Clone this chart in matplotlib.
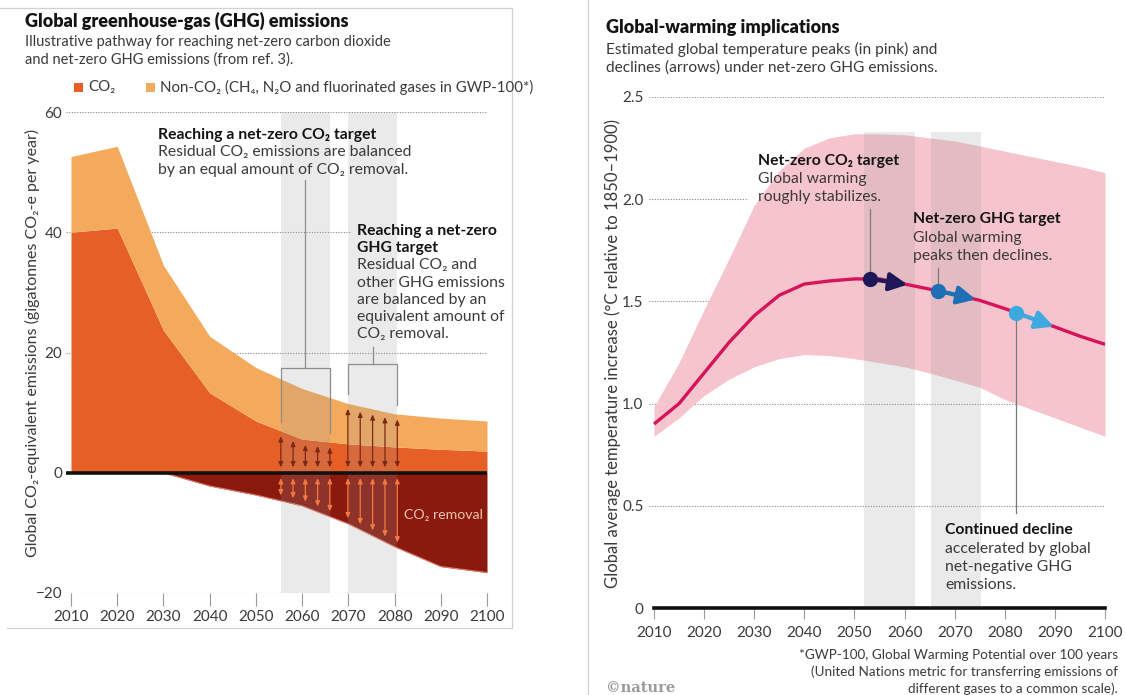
import numpy as np
import matplotlib
matplotlib.use('Agg')
import matplotlib.pyplot as plt
from matplotlib.lines import Line2D
from matplotlib.patches import Rectangle

plt.rcParams['font.family'] = ['Lato', 'DejaVu Sans']

# ---------------------------------------------------------
# Emisiones (Gt CO2-e por año)
# ---------------------------------------------------------
years_em = [2010, 2020, 2030, 2040, 2050, 2060, 2070, 2080, 2090, 2100]
co2_gross = [40.0, 40.7, 23.7, 13.3, 8.6, 5.6, 4.8, 4.3, 3.9, 3.6]
ghg_total = [52.6, 54.3, 34.5, 22.7, 17.5, 14.0, 11.5, 9.8, 9.1, 8.6]
co2_removal = [0.0, 0.0, 0.0, -2.2, -3.7, -5.5, -8.5, -12.3, -15.6, -16.6]

# ---------------------------------------------------------
# Calentamiento (°C sobre 1850-1900)
# ---------------------------------------------------------
years_t = [2010, 2015, 2020, 2025, 2030, 2035, 2040, 2045, 2050, 2055,
           2060, 2065, 2070, 2075, 2080, 2085, 2090, 2095, 2100]
temp_mid = [0.90, 1.00, 1.15, 1.30, 1.43, 1.53, 1.585, 1.60, 1.61, 1.61,
            1.585, 1.56, 1.535, 1.505, 1.465, 1.42, 1.375, 1.33, 1.29]
temp_high = [0.985, 1.20, 1.46, 1.71, 1.97, 2.14, 2.25, 2.30, 2.32, 2.32,
             2.315, 2.30, 2.285, 2.26, 2.235, 2.21, 2.185, 2.16, 2.13]
temp_low = [0.84, 0.93, 1.04, 1.12, 1.18, 1.22, 1.24, 1.235, 1.22, 1.20,
            1.18, 1.15, 1.115, 1.08, 1.02, 0.975, 0.93, 0.885, 0.84]

# ventanas net-zero CO2 / net-zero GHG en cada panel
em_windows = [(2055.4, 2066.0), (2069.9, 2080.6)]
t_windows = [(2052.0, 2062.0), (2065.3, 2075.3)]

# puntos marcados sobre la curva de temperatura
mark_years = [2053.1, 2066.7, 2082.3]
mark_colors = ['#1e1858', '#1f6fb4', '#3ea9de']
arrow_span = 7.5

# colores
C_CO2 = '#e65f27'
C_NON = '#f4aa5c'
C_REM = '#8a1a0e'
C_PINK = '#f6c4cd'
C_LINE = '#d5145b'
TXT = '#3a3a3a'
BOLD = '#141414'
GRID = '#8a8a8a'

W, H = 1126, 695
fig = plt.figure(figsize=(W / 100, H / 100), dpi=100)


def fx(px):
    return px / W


def fy(py):
    return 1 - py / H


def texto(x, y, s, size=11, weight='normal', color=None, ha='left', **kw):
    fig.text(fx(x), fy(y), s, fontsize=size, fontweight=weight,
             color=color or (BOLD if weight != 'normal' else TXT),
             va='center', ha=ha, **kw)


def grid_line(ax, v, x0, x1, gap=None):
    segs = [(x0, x1)] if gap is None else [(x0, gap[0]), (gap[1], x1)]
    for a, b in segs:
        if b > a:
            ax.plot([a, b], [v, v], ls=(0, (1, 1.4)), color=GRID, lw=0.8, zorder=0.5)


# ---------------------------------------------------------
# Panel izquierdo: emisiones
# ---------------------------------------------------------
pxy = (487 - 71) / 90
axL = fig.add_axes([fx(71 - pxy), fy(593), fx(487) - fx(71 - pxy), fy(112) - fy(593)])
axL.set_xlim(2009, 2100)
axL.set_ylim(-20, 60)

axL.fill_between(years_em, 0, co2_gross, color=C_CO2, lw=0, zorder=1)
axL.fill_between(years_em, co2_gross, ghg_total, color=C_NON, lw=0, zorder=1)
axL.fill_between(years_em, co2_removal, 0, color=C_REM, lw=0, zorder=1)
axL.plot(years_em[2:], co2_removal[2:], color='#e27a68', lw=0.8, zorder=1.1)

for w in em_windows:
    axL.axvspan(*w, color='#9a9a9a', alpha=0.2, lw=0, zorder=2)

for v in [60, 40, 20, -20]:
    grid_line(axL, v, 2009, 2100, gap=(2070.4, 2100) if v == 40 else None)
axL.axhline(0, color='#111111', lw=2.6, zorder=3)

# flechas de balance dentro de cada ventana
arrow_kw = dict(arrowstyle='<|-|>,head_length=0.5,head_width=0.22', lw=0.9,
                shrinkA=0, shrinkB=0, mutation_scale=6)
for w, top in zip(em_windows, (co2_gross, ghg_total)):
    for x in np.linspace(w[0], w[1], 5):
        up = np.interp(x, years_em, top)
        down = np.interp(x, years_em, co2_removal)
        axL.annotate('', xy=(x, up - 0.9), xytext=(x, 0.9),
                     arrowprops=dict(color='#7c2812', **arrow_kw), zorder=4)
        axL.annotate('', xy=(x, down + 0.9), xytext=(x, -0.9),
                     arrowprops=dict(color='#f27a40', **arrow_kw), zorder=4)

# corchetes que señalan cada ventana
for w, top, yb, ystem in zip(em_windows, (co2_gross, ghg_total), (17.4, 18.1), (48.7, 20.9)):
    xl, xr = w
    xm = (xl + xr) / 2
    yl = np.interp(xl, years_em, top) + 1.5
    yr = np.interp(xr, years_em, top) + 1.5
    axL.plot([xl, xl, xr, xr], [yl, yb, yb, yr], color='#8d8d8d', lw=0.9, zorder=5)
    axL.plot([xm, xm], [yb, ystem], color='#8d8d8d', lw=0.9, zorder=5)

axL.text(2090.5, -7.0, 'CO₂ removal', color='#f1c3b3', ha='center', va='center',
         fontsize=10.2, zorder=5)

for s in axL.spines.values():
    s.set_visible(False)
axL.set_xticks(range(2010, 2101, 10))
axL.set_yticks([-20, 0, 20, 40, 60])
axL.tick_params(axis='x', length=9, width=0.8, color='#9a9a9a', pad=3,
                labelsize=11, labelcolor=TXT)
axL.tick_params(axis='y', length=0, pad=3, labelsize=11, labelcolor=TXT)

# ---------------------------------------------------------
# Panel derecho: calentamiento
# ---------------------------------------------------------
axR = fig.add_axes([fx(649), fy(608), fx(1105) - fx(649), fy(97) - fy(608)])
axR.set_xlim(2009, 2100)
axR.set_ylim(0, 2.5)

axR.fill_between(years_t, temp_low, temp_high, color=C_PINK, lw=0, zorder=1)
for w in t_windows:
    axR.axvspan(*w, ymax=2.33 / 2.5, color='#9a9a9a', alpha=0.2, lw=0, zorder=2)
for v in [0.5, 1.0, 1.5, 2.0, 2.5]:
    grid_line(axR, v, 2009, 2100, gap=(2028.8, 2057.1) if v == 2.0 else None)
axR.plot([2010, 2100], [0, 0], color='#111111', lw=2.6, zorder=3, clip_on=False)

axR.plot(years_t, temp_mid, color=C_LINE, lw=2.4, zorder=4, solid_capstyle='butt')

# líneas guía desde los textos
leader = [(mark_years[0], 1.95, None), (mark_years[1], 1.665, None),
          (mark_years[2], None, 0.465)]
for x, ytop, ybot in leader:
    y = np.interp(x, years_t, temp_mid)
    axR.plot([x, x], [ytop if ytop else y, ybot if ybot else y],
             color='#7a7a7a', lw=0.9, zorder=3.5)

for x, c in zip(mark_years, mark_colors):
    y0 = np.interp(x, years_t, temp_mid)
    x1 = x + arrow_span
    y1 = np.interp(x1, years_t, temp_mid)
    axR.annotate('', xy=(x1, y1), xytext=(x, y0),
                 arrowprops=dict(arrowstyle='-|>,head_length=0.9,head_width=0.45',
                                 color=c, lw=3, shrinkA=0, shrinkB=0,
                                 mutation_scale=12), zorder=5)
    axR.plot([x], [y0], 'o', ms=11, color=c, mec='none', zorder=6)

for s in axR.spines.values():
    s.set_visible(False)
axR.set_xticks(range(2010, 2101, 10))
axR.set_yticks([0, 0.5, 1.0, 1.5, 2.0, 2.5])
axR.set_yticklabels(['0', '0.5', '1.0', '1.5', '2.0', '2.5'])
axR.tick_params(axis='x', length=8, width=0.8, color='#9a9a9a', pad=5,
                labelsize=11, labelcolor=TXT)
axR.tick_params(axis='y', length=0, pad=4, labelsize=11, labelcolor=TXT)

# ---------------------------------------------------------
# Marcos, títulos y textos
# ---------------------------------------------------------
fig.add_artist(Line2D([fx(0), fx(512), fx(512), fx(7)],
                      [fy(8), fy(8), fy(628), fy(628)], color='#d2d2d2', lw=0.9))
fig.add_artist(Line2D([fx(588), fx(588)], [0, 1], color='#d2d2d2', lw=0.9))

texto(25, 21, 'Global greenhouse-gas (GHG) emissions', size=13, weight='heavy')
texto(25, 42, 'Illustrative pathway for reaching net-zero carbon dioxide', size=10.5)
texto(25, 60, 'and net-zero GHG emissions (from ref. 3).', size=10.5)

fig.add_artist(Rectangle((fx(74), fy(91.5)), fx(9), 9 / H, color=C_CO2, lw=0))
texto(88, 87, 'CO₂', size=10.8)
fig.add_artist(Rectangle((fx(146), fy(91.5)), fx(9), 9 / H, color=C_NON, lw=0))
texto(160, 87, 'Non-CO₂ (CH₄, N₂O and fluorinated gases in GWP-100*)', size=10.8)

fig.text(fx(32), fy(343), 'Global CO₂-equivalent emissions (gigatonnes CO₂-e per year)',
         rotation=90, ha='center', va='center', fontsize=11.5, color=TXT)

texto(158, 135, 'Reaching a net-zero CO₂ target', size=11.3, weight='bold')
texto(158, 152.5, 'Residual CO₂ emissions are balanced', size=11.3)
texto(158, 170, 'by an equal amount of CO₂ removal.', size=11.3)

gh_lines = [('Reaching a net-zero', True), ('GHG target', True),
            ('Residual CO₂ and', False), ('other GHG emissions', False),
            ('are balanced by an', False), ('equivalent amount of', False),
            ('CO₂ removal.', False)]
for i, (s, b) in enumerate(gh_lines):
    texto(357, 231 + i * 17.2, s, size=11.3, weight='bold' if b else 'normal')

texto(606, 27, 'Global-warming implications', size=13, weight='heavy')
texto(606, 49, 'Estimated global temperature peaks (in pink) and', size=11.2)
texto(606, 68, 'declines (arrows) under net-zero GHG emissions.', size=11.2)

fig.text(fx(613), fy(354), 'Global average temperature increase (°C relative to 1850–1900)',
         rotation=90, ha='center', va='center', fontsize=12, color=TXT)

texto(758, 161, 'Net-zero CO₂ target', size=11.3, weight='bold')
texto(758, 179, 'Global warming', size=11.3)
texto(758, 197, 'roughly stabilizes.', size=11.3)

texto(913, 219, 'Net-zero GHG target', size=11.3, weight='bold')
texto(913, 238, 'Global warming', size=11.3)
texto(913, 256, 'peaks then declines.', size=11.3)

texto(945, 530, 'Continued decline', size=11.3, weight='bold')
texto(945, 549, 'accelerated by global', size=11.3)
texto(945, 567, 'net-negative GHG', size=11.3)
texto(945, 585, 'emissions.', size=11.3)

texto(1118, 655, '*GWP-100, Global Warming Potential over 100 years', size=9.7, ha='right')
texto(1118, 672, '(United Nations metric for transferring emissions of', size=9.7, ha='right')
texto(1118, 689, 'different gases to a common scale).', size=9.7, ha='right')

fig.text(fx(606), fy(688), '©nature', family='DejaVu Serif', fontsize=10.5,
         color='#9a9a9a', va='center', ha='left', fontweight='bold')

fig.savefig('out.png', dpi=100)
